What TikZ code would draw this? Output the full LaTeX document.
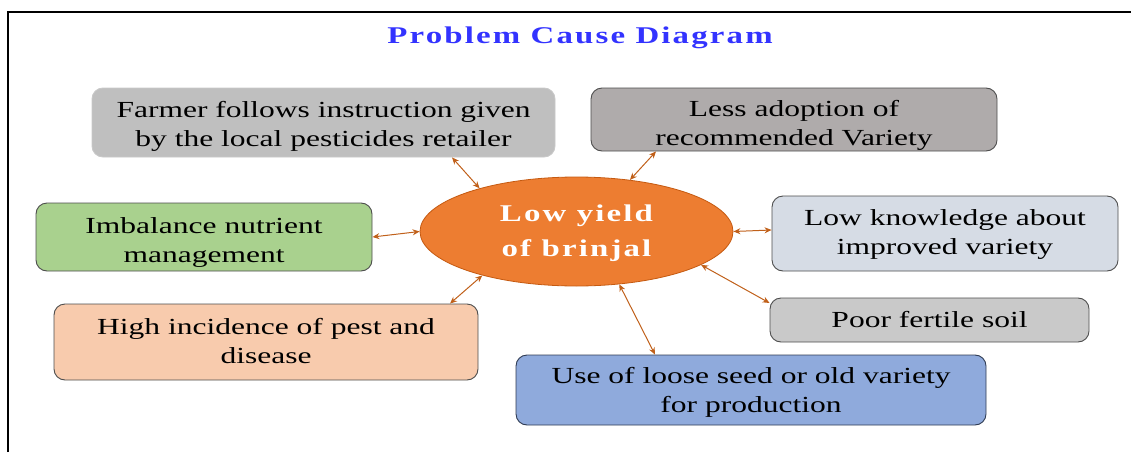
\documentclass[tikz,border=0pt]{standalone}
\usepackage{fontspec}
\setmainfont{Liberation Serif}[FakeStretch=1.37]
\newfontfamily\headfont{Liberation Serif}[FakeStretch=1.37,LetterSpace=9]
\usetikzlibrary{shapes.geometric,arrows.meta,calc}

\definecolor{titleblue}{HTML}{3333FF}
\definecolor{arrowbrown}{HTML}{C0601A}
\definecolor{coreorange}{HTML}{ED7D31}
\definecolor{coreedge}{HTML}{C55A11}
\definecolor{edgedark}{HTML}{4D4D4D}
\definecolor{edgelight}{HTML}{C8C8C8}
\definecolor{edgeblue}{HTML}{2F3B52}
\definecolor{fillfarmer}{HTML}{BFBFBF}
\definecolor{filladopt}{HTML}{AFABAB}
\definecolor{fillnutri}{HTML}{A9D18E}
\definecolor{fillknow}{HTML}{D6DCE5}
\definecolor{fillsoil}{HTML}{C9C9C9}
\definecolor{fillpest}{HTML}{F8CBAD}
\definecolor{fillseed}{HTML}{8FAADC}

\tikzset{
  causebox/.style={rectangle, rounded corners=11pt, draw=#1, line width=0.9pt,
    inner sep=0pt},
  causebox/.default=edgedark,
  causetext/.style={align=center, inner sep=0pt, text=black,
    font=\fontsize{23}{29}\selectfont},
  link/.style={arrowbrown, line width=1pt,
    {Stealth[length=7pt,width=6pt]}-{Stealth[length=7pt,width=6pt]}},
}

\begin{document}
\begin{tikzpicture}[x=1pt,y=-1pt]
  \useasboundingbox (0,0) rectangle (1131,452);

  % outer frame (top and left edges)
  \coordinate (fbl) at (8,452);
  \coordinate (ftl) at (8,12);
  \coordinate (ftr) at (1131,12);
  \draw[line width=2pt] (fbl) -- (ftl) -- (ftr);

  % heading
  \node[text=titleblue, font=\headfont\bfseries\fontsize{24}{29}\selectfont] (title) at (580,38) {Problem Cause Diagram};

  % central problem
  \node[ellipse, fill=coreorange, draw=coreedge, line width=0.8pt,
        minimum width=313pt, minimum height=109pt, inner sep=0pt] (core) at (576.5,231.5) {};
  \node[align=center, text=white, inner sep=0pt,
        font=\headfont\bfseries\fontsize{24}{35}\selectfont] (core-t) at ([yshift=-2pt]core.center) {Low yield\\of brinjal};

  % cause boxes
  \node[causebox=edgelight, fill=fillfarmer, minimum width=463pt, minimum height=69pt] (farmer) at (323.5,122.5) {};
  \node[causebox, fill=filladopt, minimum width=406pt, minimum height=63pt] (adopt) at (794,119.5) {};
  \node[causebox, fill=fillnutri, minimum width=336pt, minimum height=68pt] (nutri) at (204,237) {};
  \node[causebox, fill=fillknow, minimum width=346pt, minimum height=75pt] (know) at (945,233.5) {};
  \node[causebox, fill=fillsoil, minimum width=319pt, minimum height=44pt] (soil) at (929.5,320) {};
  \node[causebox, fill=fillpest, minimum width=424pt, minimum height=76pt] (pest) at (266,342) {};
  \node[causebox=edgeblue, fill=fillseed, minimum width=470pt, minimum height=70pt] (seed) at (751,390) {};

  % cause texts
  \node[causetext] (farmer-t) at ([yshift=-4pt]farmer.center) {Farmer follows instruction given\\by the local pesticides retailer};
  \node[causetext] (adopt-t) at ([yshift=-5.5pt]adopt.center) {Less adoption of\\recommended Variety};
  \node[causetext] (nutri-t) at ([yshift=-5pt]nutri.center) {Imbalance nutrient\\management};
  \node[causetext] (know-t) at ([yshift=-1pt]know.center) {Low knowledge about\\improved variety};
  \node[causetext] (soil-t) at (soil.center) {Poor fertile soil};
  \node[causetext] (pest-t) at ([yshift=1pt]pest.center) {High incidence of pest and\\disease};
  \node[causetext] (seed-t) at ([yshift=-2.5pt]seed.center) {Use of loose seed or old variety\\for production};

  % links between causes and the central problem
  \draw[link] ([xshift=128.5pt]farmer.south) -- (core.156);
  \draw[link] ([xshift=-138pt]adopt.south) -- (core.44);
  \draw[link] (nutri.east) -- (core.180);
  \draw[link] ([yshift=3.5pt]know.west) -- (core.0);
  \draw[link] ([yshift=17pt]soil.west) -- (core.-15);
  \draw[link] ([xshift=184pt]pest.north) -- (core.205);
  \draw[link] ([xshift=-96pt]seed.north) -- (core.-51);
\end{tikzpicture}
\end{document}
